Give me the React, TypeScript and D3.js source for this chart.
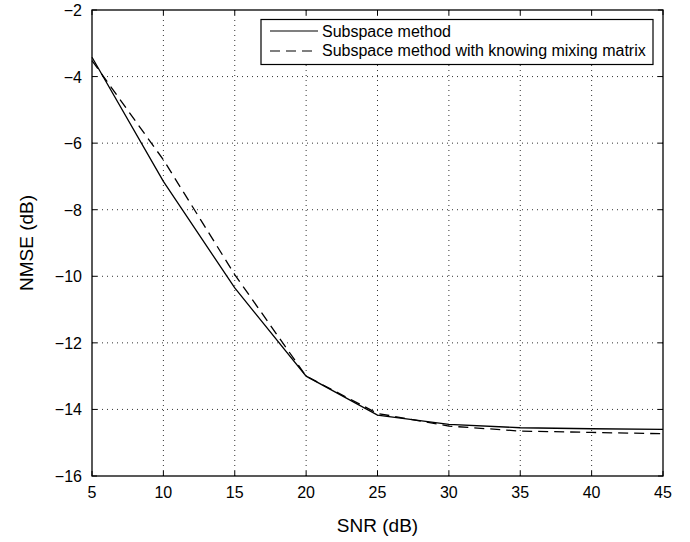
import React from "react";
import * as d3 from "d3";

const snr = [5, 10, 15, 20, 25, 30, 35, 40, 45];
const subspace = [-3.42, -7.15, -10.35, -13.0, -14.17, -14.45, -14.55, -14.58, -14.6];
const subspaceKnown = [-3.52, -6.5, -9.95, -13.0, -14.12, -14.5, -14.65, -14.69, -14.73];
const xTicks = [5, 10, 15, 20, 25, 30, 35, 40, 45];
const yTicks = [-16, -14, -12, -10, -8, -6, -4, -2];
const legendLabels = ["Subspace method", "Subspace method with knowing mixing matrix"];

const W = 690, H = 542;
const L = 92, R = 663, T = 10, B = 476;
const FONT = "'Liberation Sans', Arial, Helvetica, sans-serif";

export default function App() {
  const x = d3.scaleLinear().domain([5, 45]).range([L, R]);
  const y = d3.scaleLinear().domain([-16, -2]).range([B, T]);
  const line = d3.line<number>().x((_, i) => x(snr[i])).y((d) => y(d));
  const tl = 5;
  return (
    <svg width={W} height={H} style={{ position: "absolute", left: 0, top: 0, background: "#fff" }}>
      <rect x={0} y={0} width={W} height={H} fill="#fff" />
      {/* grid */}
      {xTicks.slice(1, -1).map((t) => (
        <line key={"gx" + t} x1={x(t)} x2={x(t)} y1={T} y2={B} stroke="#333" strokeWidth={1} strokeDasharray="1,4" />
      ))}
      {yTicks.slice(1, -1).map((t) => (
        <line key={"gy" + t} x1={L} x2={R} y1={y(t)} y2={y(t)} stroke="#333" strokeWidth={1} strokeDasharray="1,4" />
      ))}
      {/* ticks */}
      {xTicks.map((t) => (
        <g key={"tx" + t}>
          <line x1={x(t)} x2={x(t)} y1={B} y2={B - tl} stroke="#000" />
          <line x1={x(t)} x2={x(t)} y1={T} y2={T + tl} stroke="#000" />
          <text x={x(t)} y={498} fontFamily={FONT} fontSize={16} textAnchor="middle" fill="#000">{t}</text>
        </g>
      ))}
      {yTicks.map((t) => (
        <g key={"ty" + t}>
          <line x1={L} x2={L + tl} y1={y(t)} y2={y(t)} stroke="#000" />
          <line x1={R} x2={R - tl} y1={y(t)} y2={y(t)} stroke="#000" />
          <text x={L - 10} y={y(t) + 6} fontFamily={FONT} fontSize={16} textAnchor="end" fill="#000">{"\u2212" + Math.abs(t)}</text>
        </g>
      ))}
      {/* lines */}
      <path d={line(subspace) || ""} fill="none" stroke="#000" strokeWidth={1.3} />
      <path d={line(subspaceKnown) || ""} fill="none" stroke="#000" strokeWidth={1.3} strokeDasharray="10,6" />
      {/* frame */}
      <rect x={L} y={T} width={R - L} height={B - T} fill="none" stroke="#000" strokeWidth={1.3} />
      {/* legend */}
      <rect x={261} y={19.5} width={392} height={45} fill="#fff" stroke="#000" strokeWidth={1.2} />
      <line x1={270} x2={318} y1={31} y2={31} stroke="#000" strokeWidth={1.2} />
      <line x1={270} x2={318} y1={51} y2={51} stroke="#000" strokeWidth={1.2} strokeDasharray="10,6" />
      <text x={322} y={37} fontFamily={FONT} fontSize={16} fill="#000">{legendLabels[0]}</text>
      <text x={322} y={56} fontFamily={FONT} fontSize={16} fill="#000">{legendLabels[1]}</text>
      {/* axis titles */}
      <text x={(L + R) / 2} y={532} fontFamily={FONT} fontSize={19} textAnchor="middle" fill="#000">SNR (dB)</text>
      <text transform={`translate(33,${(T + B) / 2}) rotate(-90)`} fontFamily={FONT} fontSize={19} textAnchor="middle" fill="#000">NMSE (dB)</text>
    </svg>
  );
}
